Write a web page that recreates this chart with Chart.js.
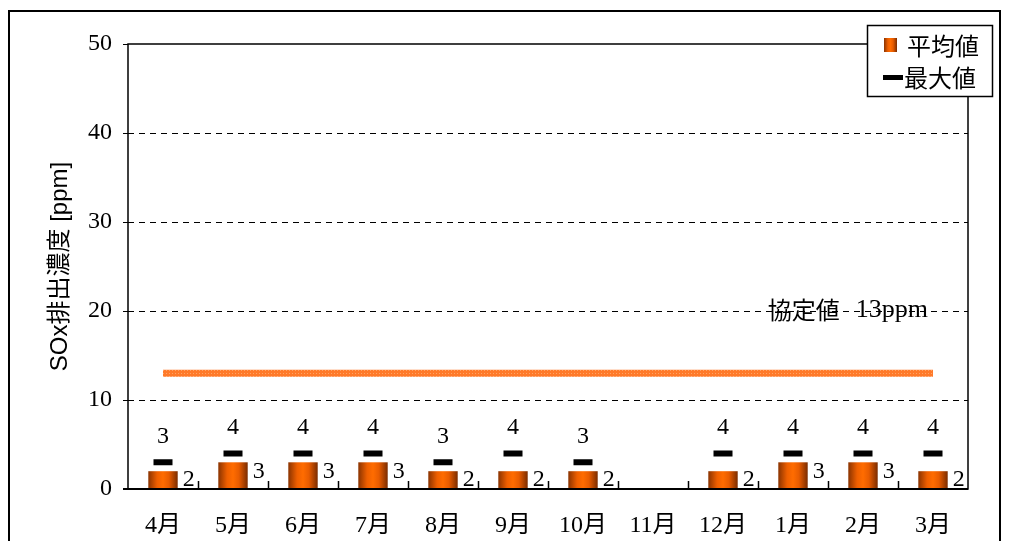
<!DOCTYPE html>
<html>
<head>
<meta charset="utf-8">
<script src="https://cdn.jsdelivr.net/npm/chart.js@4.4.0/dist/chart.umd.min.js"></script>
<style>
  html, body { margin: 0; padding: 0; background: #fff; }
  canvas { display: block; }
</style>
</head>
<body>
<canvas id="soxChart" width="1010" height="541"></canvas>
<script>
// ======= DONNEES =======
const months = ['4月', '5月', '6月', '7月', '8月', '9月', '10月', '11月', '12月', '1月', '2月', '3月'];
const heikin = [2, 3, 3, 3, 2, 2, 2, null, 2, 3, 3, 2];   // 平均値
const saidai = [3, 4, 4, 4, 3, 4, 3, null, 4, 4, 4, 4];   // 最大値
const kyotei = [13, 13, 13, 13, 13, 13, 13, 13, 13, 13, 13, 13]; // 協定値
const yTicks = [0, 10, 20, 30, 40, 50];

const SERIF = '"Liberation Serif", "Noto Sans CJK JP", serif';
const GOTHIC = '"Noto Sans CJK JP", "Liberation Sans", sans-serif';
const BAR_FRAC = 0.42;

// cylinder-like gradient for the bars
function barGradient(c, x0, x1) {
  const g = c.createLinearGradient(x0, 0, x1, 0);
  g.addColorStop(0, '#8a3300');
  g.addColorStop(0.3, '#ee5f00');
  g.addColorStop(0.5, '#ff6c00');
  g.addColorStop(0.7, '#e85c00');
  g.addColorStop(1, '#7a2c00');
  return g;
}

function barFill(ctx) {
  const chart = ctx.chart;
  const xs = chart.scales.x;
  if (!xs || ctx.dataIndex == null) return '#ff6600';
  const cx = xs.getPixelForValue(ctx.dataIndex);
  const w = xs.width / months.length * BAR_FRAC;
  if (!isFinite(cx) || !isFinite(w) || w <= 0) return '#ff6600';
  return barGradient(chart.ctx, cx - w / 2, cx + w / 2);
}

// dotted orange texture for the 協定値 line
function dottedPattern() {
  const p = document.createElement('canvas');
  p.width = 3; p.height = 3;
  const pc = p.getContext('2d');
  pc.fillStyle = '#ff7a2a';
  pc.fillRect(0, 0, 3, 3);
  pc.fillStyle = '#ffa466';
  pc.fillRect(1, 1, 1, 1);
  return pc.createPattern(p, 'repeat');
}

// ======= LABELS, FRAME, LEGEND =======
const decorPlugin = {
  id: 'decor',
  afterDatasetsDraw(chart) {
    const { ctx, scales: { x, y } } = chart;
    const bw = x.width / months.length * BAR_FRAC;
    ctx.save();
    ctx.fillStyle = '#000';
    ctx.font = '24px ' + SERIF;
    ctx.textAlign = 'center';
    ctx.textBaseline = 'middle';
    months.forEach((m, i) => {
      const cx = x.getPixelForValue(i);
      if (saidai[i] != null) ctx.fillText(String(saidai[i]), cx, y.getPixelForValue(saidai[i]) - 26);
      if (heikin[i] != null) ctx.fillText(String(heikin[i]), cx + bw / 2 + 11, y.getPixelForValue(heikin[i]) + 9);
    });

    // 協定値 13ppm
    const ty = y.getPixelForValue(20) - 1;
    const right = x.right - 40;
    ctx.textAlign = 'right';
    ctx.font = '26px ' + SERIF;
    ctx.fillText('13ppm', right, ty);
    const w13 = ctx.measureText('13ppm').width;
    ctx.font = '24px ' + GOTHIC;
    ctx.fillText('協定値', right - w13 - 16, ty);
    ctx.restore();
  },
  afterDraw(chart) {
    const { ctx, chartArea: a, scales: { x } } = chart;
    ctx.save();
    ctx.strokeStyle = '#000';

    // plot frame
    ctx.lineWidth = 1.5;
    ctx.strokeRect(a.left, a.top, a.right - a.left, a.bottom - a.top);
    ctx.lineWidth = 2;
    ctx.beginPath();
    ctx.moveTo(a.left - 5, a.bottom);
    ctx.lineTo(a.right, a.bottom);
    ctx.stroke();

    // inward ticks between months
    ctx.lineWidth = 1.5;
    const cw = x.width / months.length;
    for (let i = 1; i < months.length; i++) {
      const tx = Math.round(a.left + i * cw) + 0.5;
      ctx.beginPath();
      ctx.moveTo(tx, a.bottom);
      ctx.lineTo(tx, a.bottom - 8);
      ctx.stroke();
    }

    // outer border
    ctx.lineWidth = 2;
    ctx.strokeRect(9, 11, 991, 600);

    // legend
    ctx.fillStyle = '#fff';
    ctx.fillRect(867, 25, 126, 72);
    ctx.lineWidth = 1.5;
    ctx.strokeRect(867.5, 25.5, 125, 71);
    ctx.fillStyle = barGradient(ctx, 884, 897);
    ctx.fillRect(884, 38, 13, 14);
    ctx.fillStyle = '#000';
    ctx.fillRect(883, 75, 20, 5);
    ctx.font = '24px ' + GOTHIC;
    ctx.textAlign = 'left';
    ctx.textBaseline = 'middle';
    ctx.fillText('平均値', 907, 46);
    ctx.fillText('最大値', 904, 78);
    ctx.restore();
  }
};

// ======= GRAPHIQUE =======
const canvas = document.getElementById('soxChart');
new Chart(canvas, {
  type: 'bar',
  data: {
    labels: months,
    datasets: [
      {
        label: '平均値',
        data: heikin,
        backgroundColor: barFill,
        borderWidth: 0,
        categoryPercentage: 1,
        barPercentage: BAR_FRAC,
        order: 2
      },
      {
        type: 'line',
        label: '最大値',
        data: saidai,
        showLine: false,
        pointStyle: 'line',
        pointRadius: 9.5,
        pointHoverRadius: 9.5,
        pointBorderWidth: 6,
        pointBorderColor: '#000',
        borderColor: '#000',
        order: 1
      },
      {
        type: 'line',
        label: '協定値',
        data: kyotei,
        borderColor: dottedPattern(),
        borderWidth: 7,
        pointRadius: 0,
        fill: false,
        order: 3
      }
    ]
  },
  options: {
    responsive: false,
    animation: false,
    layout: { padding: { left: 0, top: 44, right: 42, bottom: 0 } },
    plugins: {
      legend: { display: false },
      tooltip: { enabled: false }
    },
    scales: {
      x: {
        offset: true,
        grid: { display: false, drawTicks: false },
        border: { display: false },
        ticks: {
          color: '#000',
          padding: 22,
          maxRotation: 0,
          autoSkip: false,
          font: { family: SERIF, size: 24 }
        },
        afterFit(scale) { scale.height = 52; }
      },
      y: {
        min: 0,
        max: 50,
        afterBuildTicks(scale) { scale.ticks = yTicks.map(v => ({ value: v })); },
        grid: {
          color: c => (c.tick && (c.tick.value === 0 || c.tick.value === 50)) ? 'rgba(0,0,0,0)' : '#000',
          tickColor: '#000',
          tickLength: 5,
          lineWidth: 1
        },
        border: { display: false, dash: [6, 5] },
        ticks: {
          color: '#000',
          padding: 11,
          font: { family: SERIF, size: 24 }
        },
        title: {
          display: true,
          text: 'SOx排出濃度 [ppm]',
          color: '#000',
          padding: { top: 46, bottom: 0 },
          font: { family: '"Liberation Sans", "Noto Sans CJK JP", sans-serif', size: 24, weight: 'normal' }
        },
        afterFit(scale) { scale.width = 128; }
      }
    }
  },
  plugins: [decorPlugin]
});
</script>
</body>
</html>
